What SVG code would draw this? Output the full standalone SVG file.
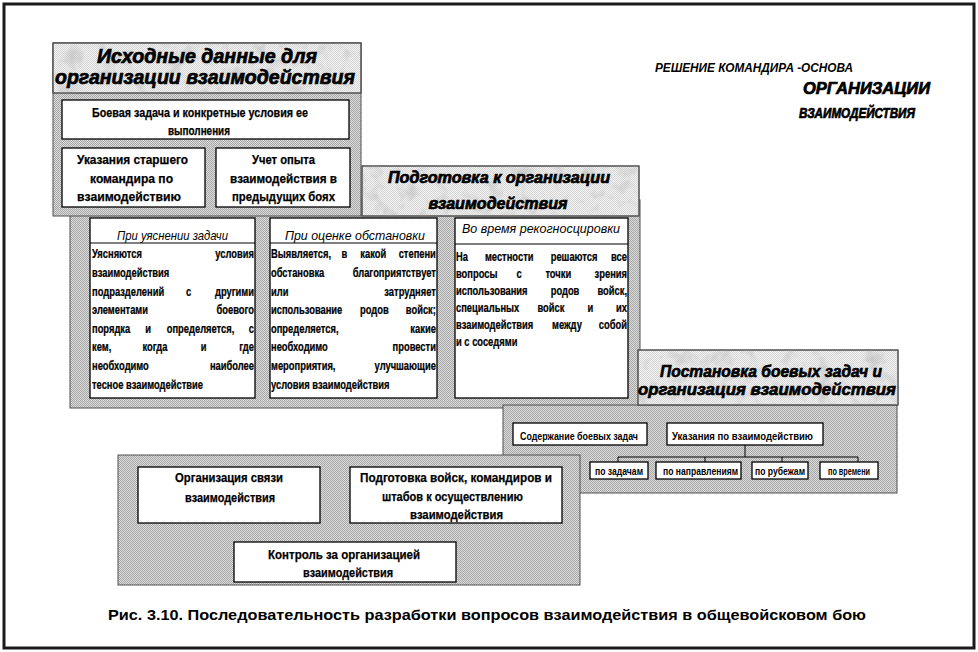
<svg xmlns="http://www.w3.org/2000/svg" width="978" height="652" viewBox="0 0 978 652">
<style>
.gray{fill:url(#dither);stroke:#505050;stroke-width:1}
.mb{fill:url(#marble);stroke:#505050;stroke-width:1}
.box{fill:#fff;stroke:#000;stroke-width:1.3}
.ln{stroke:#000;stroke-width:1;fill:none}
text{font-family:"Liberation Sans",Arial,sans-serif;fill:#000}
.hd{font-weight:bold;font-style:italic;stroke:#000;stroke-width:0.7}
.b{font-weight:bold;font-size:13px;stroke:#000;stroke-width:0.25}
.s{font-weight:bold;font-size:11px}
.it{font-style:italic;font-size:13px}
.c{text-anchor:middle}
.e{text-anchor:end}
</style>
<defs>
<pattern id="dither" width="2" height="2" patternUnits="userSpaceOnUse">
<rect width="2" height="2" fill="#dadada"/><rect width="1" height="1" fill="#a8a8a8"/><rect x="1" y="1" width="1" height="1" fill="#a8a8a8"/>
</pattern>
<pattern id="marble" width="2" height="2" patternUnits="userSpaceOnUse">
<rect width="2" height="2" fill="#f2f2f2"/><rect width="1" height="1" fill="#d6d6d6"/><rect x="1" y="1" width="1" height="1" fill="#d6d6d6"/>
</pattern>
<filter id="spots" x="0" y="0" width="1" height="1">
<feTurbulence type="fractalNoise" baseFrequency="0.06" numOctaves="3" seed="4"/>
<feColorMatrix type="matrix" values="0 0 0 0 0.55  0 0 0 0 0.55  0 0 0 0 0.55  2.2 0 0 0 -1.1"/>
<feComposite in2="SourceGraphic" operator="in"/>
</filter>
</defs>
<rect x="0" y="0" width="978" height="652" fill="#fff"/>
<rect x="4" y="4" width="970" height="644" fill="none" stroke="#1a1a1a" stroke-width="3"/>

<g id="title-right">
<text x="655" y="72" font-size="13" font-weight="bold" font-style="italic" textLength="198" lengthAdjust="spacingAndGlyphs">РЕШЕНИЕ КОМАНДИРА -ОСНОВА</text>
<text x="803" y="94" class="hd" font-size="16" textLength="127" lengthAdjust="spacingAndGlyphs">ОРГАНИЗАЦИИ</text>
<text x="799" y="118" class="hd" font-size="14" stroke-width="0.4" textLength="116" lengthAdjust="spacingAndGlyphs">ВЗАИМОДЕЙСТВИЯ</text>
</g>

<g id="node-podgotovka">
<rect class="gray" x="70" y="200" width="570" height="208"/>
<rect class="mb" x="362" y="166" width="277" height="50"/>
<rect x="362" y="166" width="277" height="50" fill="#fff" filter="url(#spots)"/>
<rect x="362" y="166" width="277" height="50" fill="none" stroke="#505050"/>
<text x="499" y="183" class="hd c" font-size="16" textLength="222" lengthAdjust="spacingAndGlyphs">Подготовка к организации</text>
<text x="498" y="209" class="hd c" font-size="16" textLength="139" lengthAdjust="spacingAndGlyphs">взаимодействия</text>
<g id="col1">
<rect class="box" x="90" y="218" width="165" height="180"/>
<line class="ln" x1="90" y1="243" x2="255" y2="243"/>
<text x="172.5" y="240" class="it c" textLength="111" lengthAdjust="spacingAndGlyphs">При уяснении задачи</text>
<g transform="translate(92,0) scale(0.72,1)" class="b">
<text y="258.5"><tspan x="0">Уясняются</tspan><tspan x="225" class="e">условия</tspan></text>
<text y="277.1" x="0">взаимодействия</text>
<text y="295.7"><tspan x="0">подразделений</tspan><tspan x="130.7">с</tspan><tspan x="225" class="e">другими</tspan></text>
<text y="314.3"><tspan x="0">элементами</tspan><tspan x="225" class="e">боевого</tspan></text>
<text y="332.9"><tspan x="0">порядка</tspan><tspan x="73.8">и</tspan><tspan x="103.8">определяется,</tspan><tspan x="225" class="e">с</tspan></text>
<text y="351.5"><tspan x="0">кем,</tspan><tspan x="70.1">когда</tspan><tspan x="151.2">и</tspan><tspan x="225" class="e">где</tspan></text>
<text y="370.1"><tspan x="0">необходимо</tspan><tspan x="225" class="e">наиболее</tspan></text>
<text y="388.7" x="0">тесное  взаимодействие</text>
</g>
</g>
<g id="col2">
<rect class="box" x="270" y="218" width="167" height="180"/>
<line class="ln" x1="270" y1="243" x2="437" y2="243"/>
<text x="355" y="240" class="it c" textLength="140" lengthAdjust="spacingAndGlyphs">При оценке обстановки</text>
<g transform="translate(271,0) scale(0.72,1)" class="b">
<text y="258.5"><tspan x="0">Выявляется,</tspan><tspan x="98">в</tspan><tspan x="124">какой</tspan><tspan x="229" class="e">степени</tspan></text>
<text y="277.1"><tspan x="0">обстановка</tspan><tspan x="229" class="e">благоприятствует</tspan></text>
<text y="295.7"><tspan x="0">или</tspan><tspan x="229" class="e">затрудняет</tspan></text>
<text y="314.3"><tspan x="0">использование</tspan><tspan x="123.6">родов</tspan><tspan x="229" class="e">войск;</tspan></text>
<text y="332.9"><tspan x="0">определяется,</tspan><tspan x="229" class="e">какие</tspan></text>
<text y="351.5"><tspan x="0">необходимо</tspan><tspan x="229" class="e">провести</tspan></text>
<text y="370.1"><tspan x="0">мероприятия,</tspan><tspan x="229" class="e">улучшающие</tspan></text>
<text y="388.7" x="0">условия  взаимодействия</text>
</g>
</g>
<g id="col3">
<rect class="box" x="455" y="218" width="173" height="180"/>
<line class="ln" x1="455" y1="244" x2="628" y2="244"/>
<text x="541" y="233" class="it c" textLength="158" lengthAdjust="spacingAndGlyphs">Во время рекогносцировки</text>
<g transform="translate(456,0) scale(0.72,1)" class="b">
<text y="261.5"><tspan x="0">На</tspan><tspan x="40.2">местности</tspan><tspan x="131.5">решаются</tspan><tspan x="237.5" class="e">все</tspan></text>
<text y="278.5"><tspan x="0">вопросы</tspan><tspan x="84">с</tspan><tspan x="124.2">точки</tspan><tspan x="237.5" class="e">зрения</tspan></text>
<text y="295.5"><tspan x="0">использования</tspan><tspan x="131.5">родов</tspan><tspan x="237.5" class="e">войск,</tspan></text>
<text y="312.5"><tspan x="0">специальных</tspan><tspan x="113.2">войск</tspan><tspan x="182.6">и</tspan><tspan x="237.5" class="e">их</tspan></text>
<text y="329.5"><tspan x="0">взаимодействия</tspan><tspan x="133.3">между</tspan><tspan x="237.5" class="e">собой</tspan></text>
<text y="346.5" x="0">и с соседями</text>
</g>
</g>
</g>

<g id="node-iskhodnye">
<rect class="gray" x="53" y="43" width="308" height="173"/>
<rect class="mb" x="53" y="43" width="308" height="50"/>
<rect x="53" y="43" width="308" height="50" fill="#fff" filter="url(#spots)"/>
<rect x="53" y="43" width="308" height="50" fill="none" stroke="#505050"/>
<text x="207" y="63" class="hd c" font-size="20" textLength="220" lengthAdjust="spacingAndGlyphs">Исходные данные для</text>
<text x="205" y="84" class="hd c" font-size="20" textLength="300" lengthAdjust="spacingAndGlyphs">организации взаимодействия</text>
<rect class="box" x="62" y="100" width="287" height="39"/>
<text x="200" y="117" class="b c" textLength="216" lengthAdjust="spacingAndGlyphs">Боевая задача и конкретные условия ее</text>
<text x="199" y="135" class="b c" textLength="62" lengthAdjust="spacingAndGlyphs">выполнения</text>
<rect class="box" x="62" y="148" width="143" height="59"/>
<text x="132.5" y="164" class="b c" textLength="111" lengthAdjust="spacingAndGlyphs">Указания старшего</text>
<text x="131.5" y="183" class="b c" textLength="83" lengthAdjust="spacingAndGlyphs">командира по</text>
<text x="129" y="201" class="b c" textLength="104" lengthAdjust="spacingAndGlyphs">взаимодействию</text>
<rect class="box" x="216" y="148" width="134" height="59"/>
<text x="283.5" y="164" class="b c" textLength="63" lengthAdjust="spacingAndGlyphs">Учет опыта</text>
<text x="283.5" y="183" class="b c" textLength="107" lengthAdjust="spacingAndGlyphs">взаимодействия в</text>
<text x="283.5" y="201" class="b c" textLength="103" lengthAdjust="spacingAndGlyphs">предыдущих боях</text>
</g>

<g id="node-postanovka">
<rect class="gray" x="503" y="405" width="394" height="88"/>
<rect class="mb" x="638" y="350" width="260" height="55"/>
<rect x="638" y="350" width="260" height="55" fill="#fff" filter="url(#spots)"/>
<rect x="638" y="350" width="260" height="55" fill="none" stroke="#505050"/>
<text x="771" y="377" class="hd c" font-size="17" textLength="222" lengthAdjust="spacingAndGlyphs">Постановка боевых задач и</text>
<text x="767" y="395" class="hd c" font-size="17" textLength="258" lengthAdjust="spacingAndGlyphs">организация взаимодействия</text>
<rect class="box" x="513" y="423" width="134" height="22"/>
<text x="579" y="440" class="s c" textLength="118" lengthAdjust="spacingAndGlyphs">Содержание боевых задач</text>
<rect class="box" x="667" y="423" width="156" height="22"/>
<text x="742.5" y="440" class="s c" textLength="141" lengthAdjust="spacingAndGlyphs">Указания по взаимодействию</text>
<rect class="box" x="590" y="462" width="58" height="17"/>
<text x="619" y="475" class="s c" font-size="10" textLength="48" lengthAdjust="spacingAndGlyphs">по задачам</text>
<rect class="box" x="656" y="462" width="85" height="17"/>
<text x="700.5" y="475" class="s c" font-size="10" textLength="75" lengthAdjust="spacingAndGlyphs">по направлениям</text>
<rect class="box" x="752" y="462" width="56" height="17"/>
<text x="780" y="475" class="s c" font-size="10" textLength="50" lengthAdjust="spacingAndGlyphs">по рубежам</text>
<rect class="box" x="820" y="462" width="58" height="17"/>
<text x="849" y="475" class="s c" font-size="10" textLength="42" lengthAdjust="spacingAndGlyphs">по времени</text>
</g>

<g id="connectors">
<line class="ln" x1="745" y1="445" x2="745" y2="457"/>
<line class="ln" x1="618" y1="457" x2="858" y2="457"/>
<line class="ln" x1="618" y1="457" x2="618" y2="462"/>
<line class="ln" x1="705" y1="457" x2="705" y2="462"/>
<line class="ln" x1="782" y1="457" x2="782" y2="462"/>
<line class="ln" x1="858" y1="457" x2="858" y2="462"/>
</g>

<g id="node-organizatsiya">
<rect class="gray" x="118" y="455" width="462" height="130"/>
<rect class="box" x="138" y="467" width="182" height="56"/>
<text x="229" y="482" class="b c" textLength="108" lengthAdjust="spacingAndGlyphs">Организация связи</text>
<text x="230" y="502" class="b c" textLength="90" lengthAdjust="spacingAndGlyphs">взаимодействия</text>
<rect class="box" x="350" y="467" width="212" height="56"/>
<text x="456" y="482" class="b c" textLength="192" lengthAdjust="spacingAndGlyphs">Подготовка войск, командиров и</text>
<text x="452.5" y="501" class="b c" textLength="141" lengthAdjust="spacingAndGlyphs">штабов к осуществлению</text>
<text x="456.5" y="519" class="b c" textLength="93" lengthAdjust="spacingAndGlyphs">взаимодействия</text>
<rect class="box" x="234" y="542" width="222" height="40"/>
<text x="344" y="559" class="b c" textLength="152" lengthAdjust="spacingAndGlyphs">Контроль за организацией</text>
<text x="348" y="577" class="b c" textLength="90" lengthAdjust="spacingAndGlyphs">взаимодействия</text>
</g>

<text x="108" y="620" font-weight="bold" font-size="15" textLength="758" lengthAdjust="spacingAndGlyphs">Рис. 3.10. Последовательность разработки вопросов взаимодействия в общевойсковом бою</text>
</svg>
